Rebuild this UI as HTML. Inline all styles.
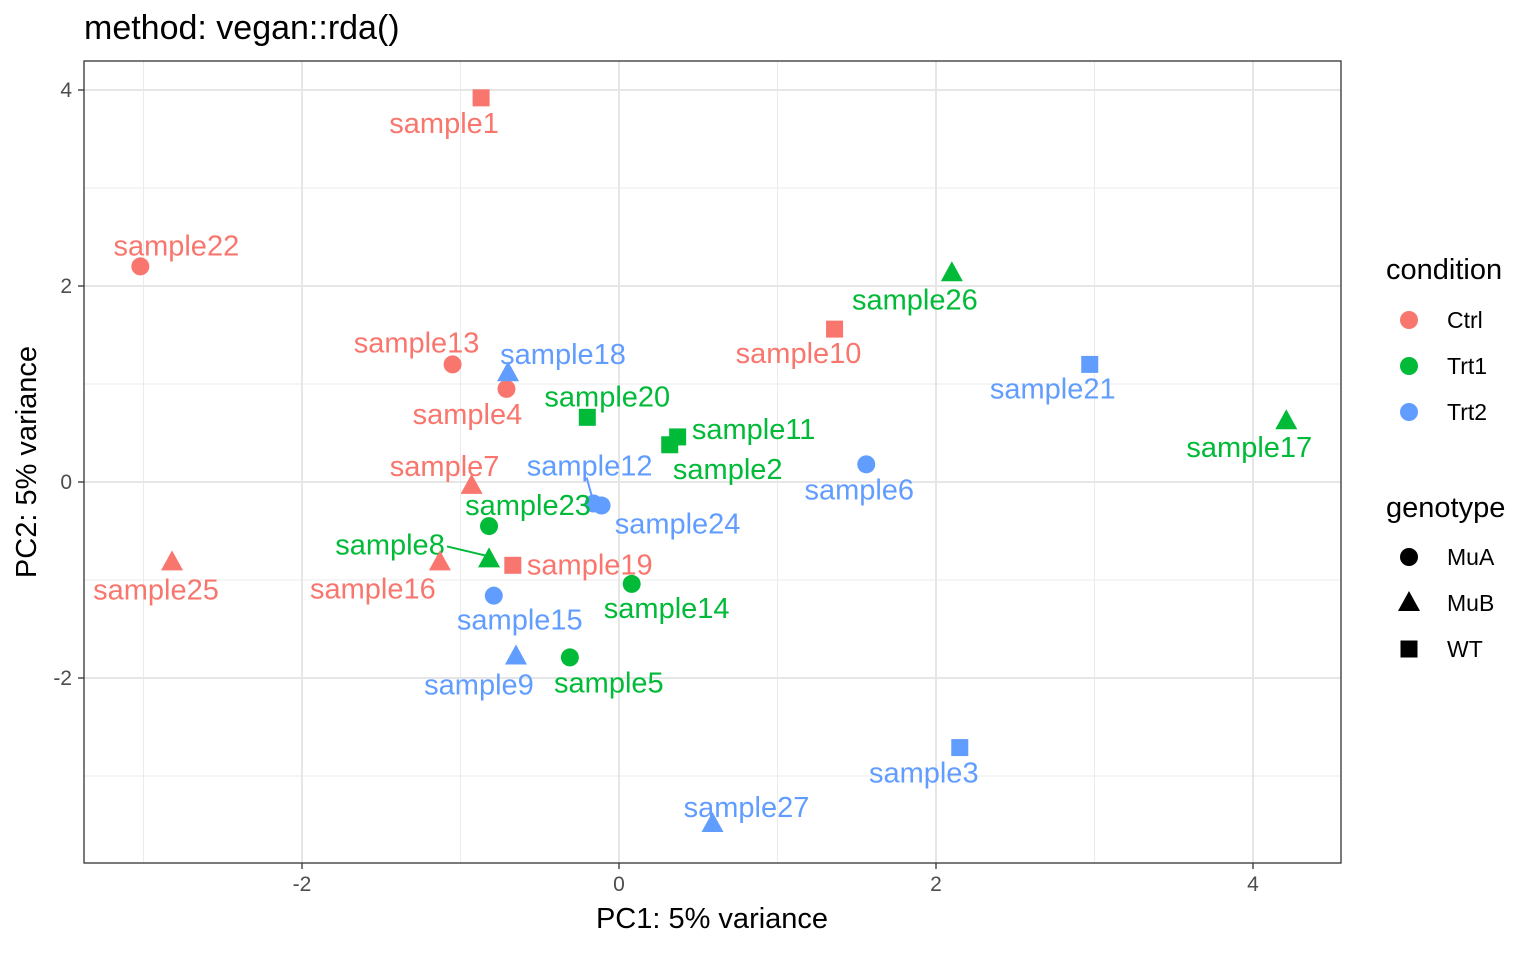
<!DOCTYPE html>
<html><head><meta charset="utf-8"><style>
body{margin:0;background:#fff;font-family:"Liberation Sans",Arial,sans-serif}
svg text{font-family:"Liberation Sans",Arial,sans-serif}
</style></head><body>
<svg id="chart" width="1536" height="949" xmlns="http://www.w3.org/2000/svg">
<rect width="1536" height="949" fill="#fff"/>
<text x="84" y="39" font-size="34" fill="#000">method: vegan::rda()</text>
<g id="grid"></g>
<g id="marks"></g>
<rect x="84" y="61" width="1257" height="802" fill="none" stroke="#333" stroke-width="1.3"/>
<g id="axes"></g>
<text x="712" y="928" font-size="29" text-anchor="middle">PC1: 5% variance</text>
<text transform="translate(36,462) rotate(-90)" font-size="29" text-anchor="middle">PC2: 5% variance</text>
<g id="legend"></g>
</svg>
<script>
const samples=["sample1","sample22","sample13","sample4","sample18","sample10","sample26","sample21","sample17","sample20","sample11","sample2","sample6","sample7","sample12","sample24","sample23","sample8","sample16","sample19","sample25","sample14","sample15","sample9","sample5","sample3","sample27"];
const pc1=[-0.87,-3.02,-1.05,-0.71,-0.70,1.36,2.10,2.97,4.21,-0.20,0.37,0.32,1.56,-0.93,-0.16,-0.11,-0.82,-0.82,-1.13,-0.67,-2.82,0.08,-0.79,-0.65,-0.31,2.15,0.59];
const pc2=[3.92,2.20,1.20,0.95,1.11,1.56,2.13,1.20,0.62,0.66,0.46,0.38,0.18,-0.04,-0.22,-0.24,-0.45,-0.79,-0.82,-0.85,-0.82,-1.04,-1.16,-1.78,-1.79,-2.71,-3.49];
const condition=["Ctrl","Ctrl","Ctrl","Ctrl","Trt2","Ctrl","Trt1","Trt2","Trt1","Trt1","Trt1","Trt1","Trt2","Ctrl","Trt2","Trt2","Trt1","Trt1","Ctrl","Ctrl","Ctrl","Trt1","Trt2","Trt2","Trt1","Trt2","Trt2"];
const genotype=["WT","MuA","MuA","MuA","MuB","WT","MuB","WT","MuB","WT","WT","WT","MuA","MuB","MuA","MuA","MuA","MuB","MuB","WT","MuB","MuA","MuA","MuB","MuA","WT","MuB"];
const xTicks=[-2,0,2,4];
const yTicks=[-2,0,2,4];
const xMinor=[-3,-1,1,3];
const yMinor=[-3,-1,1,3];
const conditions=["Ctrl","Trt1","Trt2"];
const genotypes=["MuA","MuB","WT"];
// label offsets (px, layout only)
const ldx=[-37,36,-36,-39,55,-36,-37,-37,-37,20,76,58,-7,-27,-4,76,39,-99,-67,77,-16,35,26,-37,39,-36,34];
const ldy=[25,-21,-22,25,-19,24,26,24,26,-21,-8,24,25,-20,-38,18,-21,-15,26,-1,27,24,24,28,25,25,-17];
const colors={Ctrl:"#F8766D",Trt1:"#00BA38",Trt2:"#619CFF"};
const X=v=>619+v*158.5, Y=v=>482-v*98;
const NS="http://www.w3.org/2000/svg";
function mk(tag,attrs,parent){const e=document.createElementNS(NS,tag);for(const k in attrs)e.setAttribute(k,attrs[k]);parent.appendChild(e);return e;}
const grid=document.getElementById('grid'),marks=document.getElementById('marks'),axes=document.getElementById('axes'),legend=document.getElementById('legend');
mk('rect',{x:84,y:61,width:1257,height:802,fill:"#fff"},grid);
xMinor.forEach(v=>{const l=mk('line',{x1:X(v),x2:X(v),y1:61,y2:863,stroke:"#ebebeb","stroke-width":1},grid);

});
yMinor.forEach(v=>{const l=mk('line',{x1:84,x2:1341,y1:Y(v),y2:Y(v),stroke:"#ebebeb","stroke-width":1},grid);

});
xTicks.forEach(v=>{const l=mk('line',{x1:X(v),x2:X(v),y1:61,y2:863,stroke:"#e6e6e6","stroke-width":2},grid);


const t=mk('line',{x1:X(v),x2:X(v),y1:863,y2:869,stroke:"#333","stroke-width":1.3},axes);


const tx=mk('text',{x:X(v),y:891,"font-size":21,fill:"#4d4d4d","text-anchor":"middle"},axes);tx.textContent=v;

});
yTicks.forEach(v=>{const l=mk('line',{x1:84,x2:1341,y1:Y(v),y2:Y(v),stroke:"#e6e6e6","stroke-width":2},grid);


const t=mk('line',{x1:78,x2:84,y1:Y(v),y2:Y(v),stroke:"#333","stroke-width":1.3},axes);


const tx=mk('text',{x:72,y:Y(v)+7,"font-size":21,fill:"#4d4d4d","text-anchor":"end"},axes);tx.textContent=v;

});
function shape(g,cx,cy,col,parent){
 if(g==="MuA")return mk('circle',{cx:cx,cy:cy,r:9,fill:col},parent);
 if(g==="MuB")return mk('polygon',{points:`${cx},${cy-12} ${cx+11},${cy+8} ${cx-11},${cy+8}`,fill:col},parent);
 return mk('rect',{x:cx-8.5,y:cy-8.5,width:17,height:17,fill:col},parent);
}
samples.forEach((s,i)=>{
 const cx=X(pc1[i]),cy=Y(pc2[i]),col=colors[condition[i]];
 const lx=cx+ldx[i],ly=cy+ldy[i];
 if(s==="sample12"||s==="sample8"){
  const sg=mk('line',{x1:lx+(s==="sample8"?57:-3),y1:ly+(s==="sample8"?2:12),x2:cx-(s==="sample8"?4:2),y2:cy-(s==="sample8"?4:8),stroke:col,"stroke-width":2},marks);
  
  
 }
 const p=shape(genotype[i],cx,cy,col,marks);
 
 
 const t=mk('text',{x:lx,y:ly+10,"font-size":29,fill:col,"text-anchor":"middle"},marks);t.textContent=s;
 
 
});
const lt=mk('text',{x:1386,y:279,"font-size":29},legend);lt.textContent="condition";


conditions.forEach((c,i)=>{const y=320+i*46;
 const p=mk('circle',{cx:1409,cy:y,r:9,fill:colors[c]},legend);
 
 
 const t=mk('text',{x:1447,y:y+8,"font-size":23},legend);t.textContent=c;
 
 });
const gt=mk('text',{x:1386,y:517,"font-size":29},legend);gt.textContent="genotype";


genotypes.forEach((g,i)=>{const y=557+i*46;
 const p=shape(g,1409,y,"#000",legend);
 
 
 const t=mk('text',{x:1447,y:y+8,"font-size":23},legend);t.textContent=g;
 
 });
</script>
</body></html>
